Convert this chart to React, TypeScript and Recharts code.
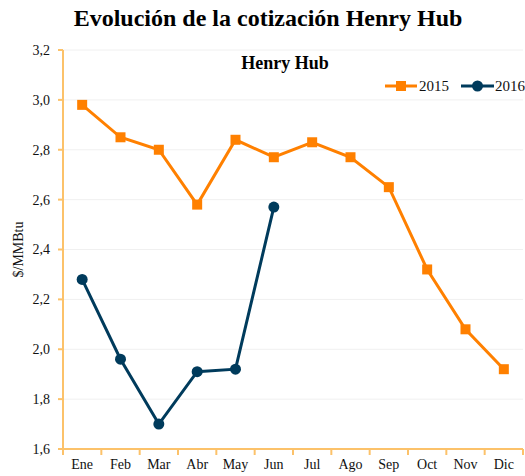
import React from 'react';
import { ComposedChart, Line, XAxis, YAxis, CartesianGrid, Legend } from 'recharts';

const months = ['Ene', 'Feb', 'Mar', 'Abr', 'May', 'Jun', 'Jul', 'Ago', 'Sep', 'Oct', 'Nov', 'Dic'];
const values2015 = [2.98, 2.85, 2.8, 2.58, 2.84, 2.77, 2.83, 2.77, 2.65, 2.32, 2.08, 1.92];
const values2016 = [2.28, 1.96, 1.7, 1.91, 1.92, 2.57, null, null, null, null, null, null];
const yTicks = [1.6, 1.8, 2.0, 2.2, 2.4, 2.6, 2.8, 3.0, 3.2];

const data = months.map((m, i) => ({ month: m, y2015: values2015[i], y2016: values2016[i] }));

const W = 525;
const H = 476;
const LEGEND_H = 18;
// legend sits at the top, recharts adds its height to the top offset
const M = { top: 50 - LEGEND_H, right: 2, bottom: 0, left: 0 };
const Y_W = 63;
const X_H = 27;
const band = (W - M.left - M.right - Y_W) / months.length;

const AXIS = '#fcc26a';
const ORANGE = '#ff8000';
const NAVY = '#003b5c';
const FONT = '"Liberation Serif", "Times New Roman", serif';

const XTick = (props: any) => {
  const { x, y, payload, index } = props;
  const top = y - 8;
  return (
    <g>
      <line x1={x - band / 2} x2={x - band / 2} y1={top} y2={top + 6} stroke={AXIS} strokeWidth={2} />
      {index === months.length - 1 && (
        <line x1={x + band / 2} x2={x + band / 2} y1={top} y2={top + 6} stroke={AXIS} strokeWidth={2} />
      )}
      <text x={x} y={y + 12} textAnchor="middle" fontFamily={FONT} fontSize={14} fill="#111">
        {payload.value}
      </text>
    </g>
  );
};

const Square = (props: any) => {
  const { cx, cy } = props;
  if (cx == null || cy == null) return null;
  return <rect x={cx - 5} y={cy - 5} width={10} height={10} fill={ORANGE} />;
};

const Dot = (props: any) => {
  const { cx, cy, value } = props;
  if (cx == null || cy == null || value == null) return null;
  return <circle cx={cx} cy={cy} r={5.5} fill={NAVY} />;
};

const LegendContent = () => (
  <div style={{ display: 'flex', alignItems: 'center', height: LEGEND_H, fontFamily: FONT, fontSize: 15, color: '#111' }}>
    <svg width={32} height={12}>
      <line x1={0} x2={32} y1={6} y2={6} stroke={ORANGE} strokeWidth={3} />
      <rect x={11} y={1} width={10} height={10} fill={ORANGE} />
    </svg>
    <span style={{ marginLeft: 2, marginRight: 12 }}>2015</span>
    <svg width={33} height={12}>
      <line x1={0} x2={33} y1={6} y2={6} stroke={NAVY} strokeWidth={3} />
      <circle cx={16.5} cy={6} r={5.5} fill={NAVY} />
    </svg>
    <span style={{ marginLeft: 1 }}>2016</span>
  </div>
);

export default function App() {
  return (
    <div style={{ position: 'absolute', left: 0, top: 0, width: W, height: H, background: '#fff' }}>
      <div
        style={{
          position: 'absolute', left: 0, top: 5, width: 536, textAlign: 'center',
          fontFamily: FONT, fontWeight: 'bold', fontSize: 24, color: '#000',
        }}
      >
        Evolución de la cotización Henry Hub
      </div>
      <div
        style={{
          position: 'absolute', left: 230, top: 53, width: 110, textAlign: 'center',
          fontFamily: FONT, fontWeight: 'bold', fontSize: 18, color: '#000', zIndex: 1,
        }}
      >
        Henry Hub
      </div>
      <ComposedChart width={W} height={H} data={data} margin={M}>
        <CartesianGrid vertical={false} stroke="#f0f0f0" strokeWidth={1} />
        <XAxis
          dataKey="month"
          scale="band"
          height={X_H}
          stroke={AXIS}
          strokeWidth={2}
          tickLine={false}
          tick={<XTick />}
          interval={0}
        />
        <YAxis
          width={Y_W}
          domain={[1.6, 3.2]}
          ticks={yTicks}
          interval={0}
          stroke={AXIS}
          strokeWidth={2}
          tickSize={5}
          tickMargin={8}
          tickFormatter={(v: number) => v.toFixed(1).replace('.', ',')}
          tick={{ fontFamily: FONT, fontSize: 14, fill: '#111' }}
          label={{
            value: '$/MMBtu', angle: -90, position: 'insideLeft', offset: 18,
            style: { fontFamily: FONT, fontSize: 14, fill: '#111', textAnchor: 'middle' },
          }}
        />
        <Legend
          verticalAlign="top"
          align="right"
          height={LEGEND_H}
          content={<LegendContent />}
          wrapperStyle={{ top: 77, right: 0, left: 'auto', width: 'auto' }}
        />
        <Line
          dataKey="y2015"
          stroke={ORANGE}
          strokeWidth={3}
          dot={<Square />}
          activeDot={false}
          isAnimationActive={false}
        />
        <Line
          dataKey="y2016"
          stroke={NAVY}
          strokeWidth={3}
          dot={<Dot />}
          activeDot={false}
          isAnimationActive={false}
        />
      </ComposedChart>
    </div>
  );
}
